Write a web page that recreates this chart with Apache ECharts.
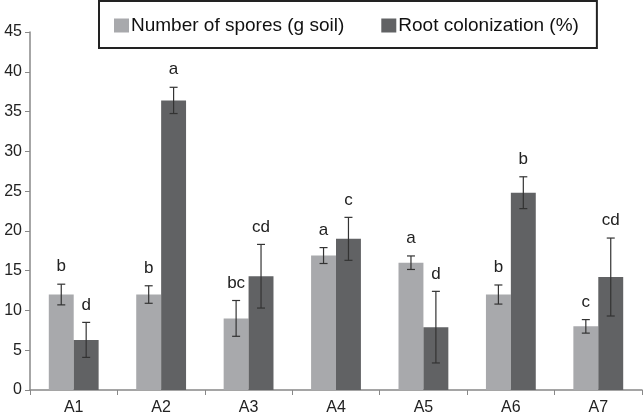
<!DOCTYPE html>
<html>
<head>
<meta charset="utf-8">
<script src="https://cdn.jsdelivr.net/npm/echarts@6/dist/echarts.min.js"></script>
<style>
  html, body { margin: 0; padding: 0; background: #fff; }
  #chart { width: 644px; height: 417px; }
</style>
</head>
<body>
<div id="chart"></div>
<script>
var categories = ['A1', 'A2', 'A3', 'A4', 'A5', 'A6', 'A7'];
var spores = [12.0, 12.0, 9.0, 16.9, 16.0, 12.0, 8.0];
var sporesErr = [1.3, 1.1, 2.25, 1.0, 0.85, 1.2, 0.85];
var sporesLetters = ['b', 'b', 'bc', 'a', 'a', 'b', 'c'];
var colonization = [6.3, 36.4, 14.3, 19.0, 7.9, 24.8, 14.2];
var colonizationErr = [2.2, 1.65, 4.0, 2.7, 4.5, 2.0, 4.9];
var colonizationLetters = ['d', 'a', 'cd', 'c', 'd', 'b', 'cd'];
var yTicks = { min: 0, max: 45, interval: 5 };

var categoryGap = 0.43;
var fontFamily = '"Liberation Sans", Arial, Helvetica, sans-serif';

// error bar + letter, shifted to the left or right bar of the pair
function errorRenderer(values, errors, letters, side) {
  return function (params, api) {
    var i = api.value(0);
    var v = values[i], e = errors[i];
    var catW = api.size([1, 0])[0];
    var barW = catW * (1 - categoryGap) / 2;
    var base = api.coord([i, v]);
    var x = base[0] + side * barW / 2;
    var yTop = api.coord([i, v + e])[1];
    var yBot = api.coord([i, v - e])[1];
    var cap = 4;
    var style = { stroke: '#333', lineWidth: 1.2 };
    return {
      type: 'group',
      children: [
        { type: 'line', shape: { x1: x, y1: yTop, x2: x, y2: yBot }, style: style },
        { type: 'line', shape: { x1: x - cap, y1: yTop, x2: x + cap, y2: yTop }, style: style },
        { type: 'line', shape: { x1: x - cap, y1: yBot, x2: x + cap, y2: yBot }, style: style },
        {
          type: 'text',
          style: {
            text: letters[i], x: x, y: yTop - 9,
            align: 'center', verticalAlign: 'bottom',
            fill: '#222', font: '17px ' + fontFamily
          }
        }
      ]
    };
  };
}

var chart = echarts.init(document.getElementById('chart'));
chart.setOption({
  animation: false,
  textStyle: { fontFamily: fontFamily },
  grid: { left: 30, right: 2, top: 32, bottom: 27 },
  legend: {
    data: ['Number of spores (g soil)', 'Root colonization (%)'],
    left: 99, top: 1,
    padding: [15, 18, 13, 15],
    itemWidth: 15, itemHeight: 14, itemGap: 37,
    icon: 'rect',
    borderColor: '#222', borderWidth: 2,
    backgroundColor: '#fff',
    textStyle: { fontSize: 19, color: '#111', padding: [0, 0, 0, -3] }
  },
  xAxis: {
    type: 'category',
    data: categories,
    axisLine: { lineStyle: { color: '#888', width: 1.5 } },
    axisTick: { show: true, length: 5, lineStyle: { color: '#888' } },
    axisLabel: { fontSize: 16, color: '#222', margin: 10 }
  },
  yAxis: {
    type: 'value',
    min: yTicks.min, max: yTicks.max, interval: yTicks.interval,
    axisLine: { show: true, lineStyle: { color: '#888', width: 1.5 } },
    axisTick: { show: true, length: 5, lineStyle: { color: '#888' } },
    splitLine: { show: false },
    axisLabel: { fontSize: 16, color: '#222', margin: 8 }
  },
  series: [
    {
      name: 'Number of spores (g soil)', type: 'bar', data: spores,
      barGap: '0%', barCategoryGap: (categoryGap * 100) + '%',
      itemStyle: { color: '#a8a9ac' }
    },
    {
      name: 'Root colonization (%)', type: 'bar', data: colonization,
      barGap: '0%', barCategoryGap: (categoryGap * 100) + '%',
      itemStyle: { color: '#616264' }
    },
    {
      type: 'custom', renderItem: errorRenderer(spores, sporesErr, sporesLetters, -1),
      data: categories.map(function (c, i) { return [i]; }), z: 10
    },
    {
      type: 'custom', renderItem: errorRenderer(colonization, colonizationErr, colonizationLetters, 1),
      data: categories.map(function (c, i) { return [i]; }), z: 10
    }
  ]
});
</script>
</body>
</html>
